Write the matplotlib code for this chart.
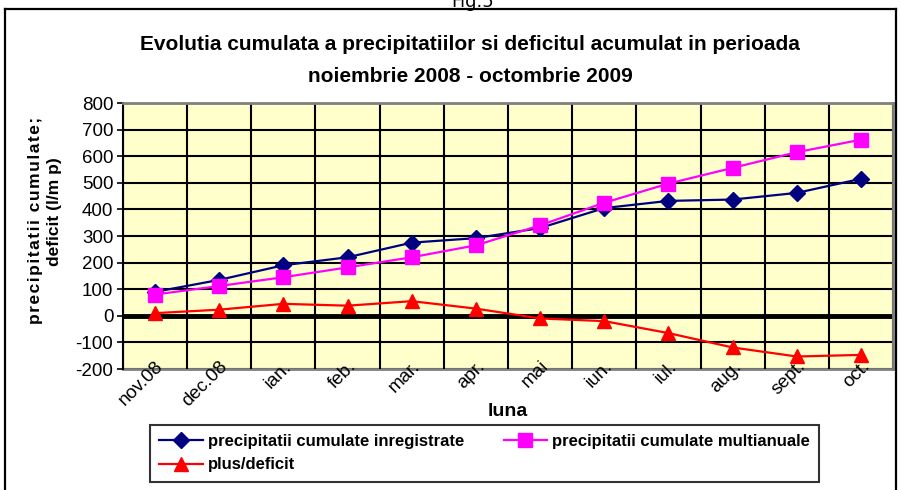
import matplotlib
matplotlib.use("Agg")
import matplotlib.pyplot as plt
from matplotlib.lines import Line2D

# data
luni = ["nov.08", "dec.08", "ian.", "feb.", "mar.", "apr.", "mai",
        "iun.", "iul.", "aug.", "sept.", "oct."]
inregistrate = [90, 135, 190, 220, 275, 292, 330, 405, 432, 437, 462, 515]
multianuale = [80, 112, 145, 182, 220, 265, 340, 425, 497, 556, 615, 662]
deficit = [10, 23, 45, 38, 55, 27, -10, -20, -65, -119, -153, -147]
y_ticks = list(range(-200, 801, 100))

plt.rcParams["font.family"] = ["Liberation Sans", "DejaVu Sans"]
plt.rcParams["axes.unicode_minus"] = False

fig = plt.figure(figsize=(9.01, 4.90), dpi=100)
ax = fig.add_axes([123 / 901, 1 - 369 / 490, 770 / 901, 266 / 490])
ax.set_facecolor("#FFFFCC")

x = list(range(len(luni)))
ax.plot(x, inregistrate, color="#000080", marker="D", markersize=8, lw=1.6,
        label="precipitatii cumulate inregistrate", zorder=4)
ax.plot(x, deficit, color="#FF0000", marker="^", markersize=10, lw=1.6,
        label="plus/deficit", zorder=4)
ax.plot(x, multianuale, color="#FF00FF", marker="s", markersize=10, lw=1.6,
        label="precipitatii cumulate multianuale", zorder=4)

ax.set_xlim(-0.5, len(luni) - 0.5)
ax.set_ylim(-200, 800)
ax.set_yticks(y_ticks)
ax.set_xticks(x)
ax.set_xticklabels(luni, rotation=45, ha="right", va="top", rotation_mode="anchor")
ax.set_xticks([i - 0.5 for i in range(len(luni) + 1)], minor=True)
ax.tick_params(axis="x", which="both", length=0, labelsize=13.5, pad=-8)
ax.tick_params(axis="y", length=4, width=1.2, labelsize=13.5, pad=3)

ax.grid(True, axis="y", color="black", lw=1.5)
ax.grid(True, axis="x", which="minor", color="black", lw=1.5)
ax.axhline(0, color="black", lw=3.5, zorder=3.2)

# layering: y grid < zero line < bottom spine < x labels/grid < other spines < data
ax.yaxis.set_zorder(3.0)
ax.xaxis.set_zorder(3.5)
for side in ["top", "right", "bottom"]:
    ax.spines[side].set_color("#808080")
    ax.spines[side].set_linewidth(2)
    ax.spines[side].set_zorder(3.6)
ax.spines["bottom"].set_zorder(3.4)
ax.spines["left"].set_color("black")
ax.spines["left"].set_linewidth(1.5)
ax.spines["left"].set_zorder(3.6)

ax.set_xlabel("luna", fontsize=14, fontweight="bold", labelpad=-5)

# y label, two lines, first one letter spaced
lbl1 = "\u200a".join("precipitatii cumulate;")
lbl2 = "deficit (l/m p)"
fig.text(36 / 901, 1 - 220 / 490, lbl1, rotation=90, ha="center", va="center",
         fontsize=12.5, fontweight="bold")
fig.text(54 / 901, 1 - 212 / 490, lbl2, rotation=90, ha="center", va="center",
         fontsize=12.5, fontweight="bold")

fig.text(470 / 901, 1 - 45 / 490, "Evolutia cumulata a precipitatiilor si deficitul acumulat in perioada",
         ha="center", va="center", fontsize=15, fontweight="bold")
fig.text(470 / 901, 1 - 77 / 490, "noiembrie 2008 - octombrie 2009",
         ha="center", va="center", fontsize=15, fontweight="bold")

fig.text(473 / 901, 1 - 7 / 490, "Fig.5", ha="center", va="baseline", fontsize=13,
         family="DejaVu Sans")

# outer frame of the chart object
fig.add_artist(Line2D([5 / 901, 5 / 901], [0, 1 - 9 / 490], color="black", lw=1.6))
fig.add_artist(Line2D([896 / 901, 896 / 901], [0, 1 - 9 / 490], color="black", lw=1.6))
fig.add_artist(Line2D([5 / 901, 896 / 901], [1 - 9 / 490, 1 - 9 / 490], color="black", lw=1.6))

leg = fig.legend(loc="upper left", bbox_to_anchor=(150 / 901, 1 - 425 / 490),
                 ncol=2, frameon=True, fancybox=False, edgecolor="black",
                 prop={"weight": "bold", "size": 12}, handlelength=2.6,
                 columnspacing=2.4, borderpad=0.55, labelspacing=0.5,
                 handletextpad=0.3, borderaxespad=0)
leg.get_frame().set_linewidth(1.5)

fig.savefig("out.png", dpi=100)
